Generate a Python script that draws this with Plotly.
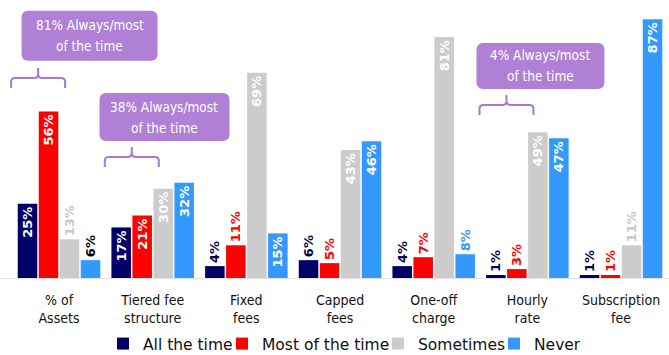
import plotly.graph_objects as go

categories = ["% of<br>Assets", "Tiered fee<br>structure", "Fixed<br>fees", "Capped<br>fees",
              "One-off<br>charge", "Hourly<br>rate", "Subscription<br>fee"]
series_names = ["All the time", "Most of the time", "Sometimes", "Never"]
all_the_time = [25, 17, 4, 6, 4, 1, 1]
most_of_the_time = [56, 21, 11, 5, 7, 3, 1]
sometimes = [13, 30, 69, 43, 81, 49, 11]
never = [6, 32, 15, 46, 8, 47, 87]
callout_lines = [["81% Always/most", "of the time"], ["38% Always/most", "of the time"],
                 ["4% Always/most", "of the time"]]
callout_categories = [0, 1, 5]

series_values = [all_the_time, most_of_the_time, sometimes, never]
colors = ["#000066", "#ff0000", "#cccccc", "#3399ff"]
outside_colors = ["#000044", "#ff0000", "#c8c8c8", "#3399ff"]
inside_colors = ["#ffffff", "#ffffff", "#ffffff", "#ffffff"]
purple = "#b07fd6"
bracket_color = "#a57ad0"
cond_font = "DejaVu Sans Condensed"
legend_text_px = [143, 262, 418, 534]

x = list(range(len(categories)))
legend_ids = ["legend", "legend2", "legend3", "legend4"]
fig = go.Figure()
for name, vals, col, ocol, icol, lid in zip(series_names, series_values, colors, outside_colors,
                                            inside_colors, legend_ids):
    pos = ["inside" if v >= 15 else "outside" for v in vals]
    tcol = [icol if p == "inside" else ocol for p in pos]
    if name == "Never":
        tcol = ["#000000" if (p == "outside" and v < 7) else c for p, v, c in zip(pos, vals, tcol)]
    fig.add_trace(go.Bar(
        name=name, x=x, y=vals, marker=dict(color=col, line=dict(width=0)),
        text=[f"<b>{v}%</b>" for v in vals], textposition=pos, textangle=-90,
        insidetextanchor="end", constraintext="none", cliponaxis=False,
        textfont=dict(family="DejaVu Sans", size=13, color=tcol), legend=lid,
    ))

# layout geometry
x_range = [-0.63, 6.512]
y_range = [0, 93.48]
px_per_x = 669 / (x_range[1] - x_range[0])
px_per_y = 278 / (y_range[1] - y_range[0])

shapes = []
annotations = []

# callout boxes (center x, center y, half width px, half height px)
box_specs = [(0.326, 81.5, 68, 25), (1.126, 54.1, 65, 24), (5.14, 71.3, 64, 23)]
bracket_tips = [63.9, 37.3, 54.8]

def rounded_rect(xc, yc, hw_px, hh_px, r_px):
    hw = hw_px / px_per_x
    hh = hh_px / px_per_y
    rx = r_px / px_per_x
    ry = r_px / px_per_y
    x0, x1, y0, y1 = xc - hw, xc + hw, yc - hh, yc + hh
    return (f"M {x0+rx},{y1} L {x1-rx},{y1} Q {x1},{y1} {x1},{y1-ry} "
            f"L {x1},{y0+ry} Q {x1},{y0} {x1-rx},{y0} L {x0+rx},{y0} "
            f"Q {x0},{y0} {x0},{y0+ry} L {x0},{y1-ry} Q {x0},{y1} {x0+rx},{y1} Z")

def bracket(xc, yb):
    hw = 27 / px_per_x
    rx = 4 / px_per_x
    ry = 4 / px_per_y
    yh = yb + 10 / px_per_y
    yn = yh + 10 / px_per_y
    x0, x1 = xc - hw, xc + hw
    return (f"M {x0},{yb} L {x0},{yh-ry} Q {x0},{yh} {x0+rx},{yh} L {xc-rx},{yh} "
            f"Q {xc},{yh} {xc},{yh+ry} L {xc},{yn} M {xc},{yh+ry} Q {xc},{yh} {xc+rx},{yh} "
            f"L {x1-rx},{yh} Q {x1},{yh} {x1},{yh-ry} L {x1},{yb}")

for (bx, by, hw, hh), lines, cat, tip in zip(box_specs, callout_lines, callout_categories, bracket_tips):
    shapes.append(dict(type="path", xref="x", yref="y", path=rounded_rect(bx, by, hw, hh, 7),
                       fillcolor=purple, line=dict(width=0), layer="above"))
    for k, line in enumerate(lines):
        annotations.append(dict(x=bx, y=by, xref="x", yref="y", text=line, showarrow=False,
                                yshift=10.5 - 21 * k,
                                font=dict(family=cond_font, size=13.5, color="white")))
    shapes.append(dict(type="path", xref="x", yref="y", path=bracket(cat - 0.223, tip),
                       line=dict(color=bracket_color, width=2), layer="above"))

legend_layout = {}
for lid, tx in zip(legend_ids, legend_text_px):
    legend_layout[lid] = dict(orientation="h", x=(tx - 40) / 669, xanchor="left", yref="container",
                              y=11 / 355, yanchor="middle", bgcolor="rgba(0,0,0,0)",
                              font=dict(family="DejaVu Sans", size=15.5, color="#111111"),
                              itemwidth=30)

fig.update_layout(
    width=669, height=355,
    margin=dict(l=0, r=0, t=0, b=77, autoexpand=False),
    paper_bgcolor="white", plot_bgcolor="white",
    barmode="group", bargap=0.103, bargroupgap=0.07,
    showlegend=True,
    uniformtext=dict(minsize=13, mode="show"),
    xaxis=dict(range=x_range, tickvals=x, ticktext=categories, showgrid=False, zeroline=False,
               showline=True, linecolor="#e3e3e3", linewidth=1, ticks="", automargin=False,
               ticklabelstandoff=9,
               tickfont=dict(family=cond_font, size=14, color="#111111")),
    yaxis=dict(range=y_range, visible=False, showgrid=False, zeroline=False),
    shapes=shapes, annotations=annotations,
    **legend_layout,
)

fig.write_html("out.html")
